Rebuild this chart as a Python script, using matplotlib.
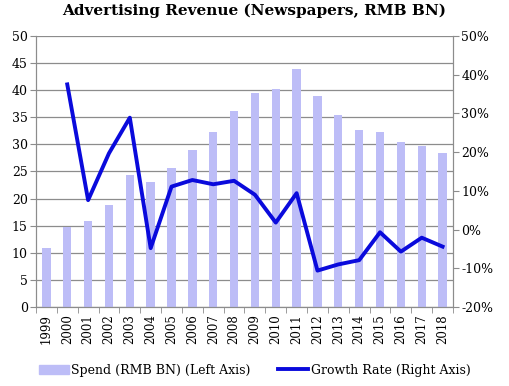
import matplotlib
matplotlib.use("Agg")
import matplotlib.pyplot as plt
import numpy as np
from matplotlib.ticker import FuncFormatter, FixedLocator
from matplotlib.lines import Line2D
from matplotlib.patches import Patch

years = ["1999", "2000", "2001", "2002", "2003", "2004", "2005", "2006", "2007", "2008",
         "2009", "2010", "2011", "2012", "2013", "2014", "2015", "2016", "2017", "2018"]
spend = [10.8, 14.8, 15.9, 18.9, 24.3, 23.1, 25.7, 29.0, 32.2, 36.2,
         39.5, 40.2, 43.9, 39.0, 35.4, 32.7, 32.3, 30.4, 29.7, 28.4]
growth = [np.nan, 37.5, 7.6, 19.7, 28.9, -4.8, 11.1, 12.8, 11.7, 12.6,
          9.0, 1.8, 9.4, -10.6, -9.0, -7.9, -0.7, -5.7, -2.1, -4.4]

plt.rcParams['font.family'] = ['DejaVu Serif']
bar_color = "#BDBDF7"
line_color = "#0A0ADC"
grid_color = "#8C8C8C"

fig = plt.figure(figsize=(5.09, 3.86), dpi=100)
ax = fig.add_axes([0.0707, 0.2047, 0.8193, 0.702])
x = np.arange(len(years))
ax.bar(x, spend, width=0.4, color=bar_color, zorder=2)
ax.set_xlim(-0.5, len(years) - 0.5)
ax.set_ylim(0, 50)
ax.set_yticks(np.arange(0, 51, 5))
ax.yaxis.grid(True, color=grid_color, linewidth=0.9, zorder=0)
ax.set_axisbelow(True)
ax.set_xticks(x)
ax.set_xticklabels(years, rotation=90, fontsize=8.5)
ax.xaxis.set_minor_locator(FixedLocator(np.arange(-0.5, len(years), 1)))
ax.tick_params(axis='x', which='major', length=0, pad=5)
ax.tick_params(axis='x', which='minor', length=4, color=grid_color, direction='out')
ax.tick_params(axis='y', length=4, color=grid_color, labelsize=9, pad=2)
for s in ['left', 'bottom', 'right']:
    ax.spines[s].set_color(grid_color)
ax.spines['top'].set_visible(False)

ax2 = ax.twinx()
ax2.plot(x, growth, color=line_color, linewidth=2.8, zorder=3)
ax2.set_ylim(-20, 50)
ax2.set_yticks(np.arange(-20, 51, 10))
ax2.yaxis.set_major_formatter(FuncFormatter(lambda v, p: f"{int(v)}%"))
ax2.tick_params(axis='y', length=4, color=grid_color, labelsize=9, pad=2)
for s in ['left', 'bottom', 'right']:
    ax2.spines[s].set_color(grid_color)
ax2.spines['top'].set_visible(False)

fig.suptitle("Advertising Revenue (Newspapers, RMB BN)", fontsize=11,
             fontweight='bold', x=0.5, y=0.99, va='top')

handles = [Patch(color=bar_color, label="Spend (RMB BN) (Left Axis)"),
           Line2D([0], [0], color=line_color, linewidth=2.8, label="Growth Rate (Right Axis)")]
fig.legend(handles=handles, loc='lower center', bbox_to_anchor=(0.5, -0.005), ncol=2,
           frameon=False, fontsize=9, handlelength=2.4, handletextpad=0.2,
           columnspacing=2.2)

fig.savefig("out.png", dpi=100)
